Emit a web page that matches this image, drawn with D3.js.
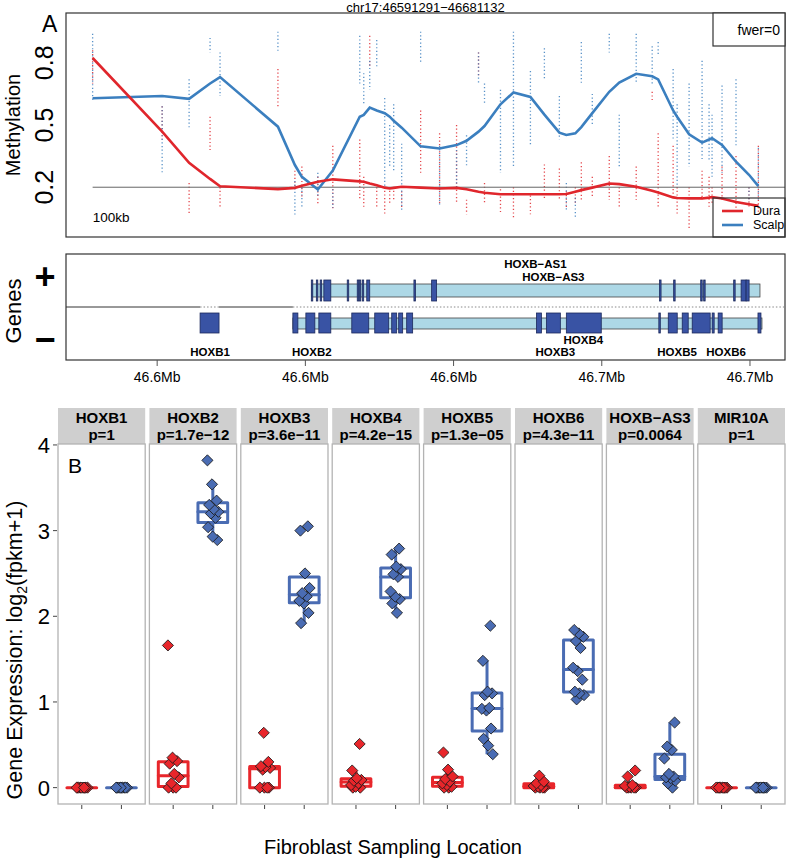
<!DOCTYPE html>
<html><head><meta charset="utf-8">
<script src="https://cdn.jsdelivr.net/npm/d3@7"></script>
<style>body{margin:0;background:#fff} svg{display:block;font-family:"Liberation Sans",Arial,sans-serif}</style>
</head><body><svg id="c" width="787" height="859"></svg>
<script>
// ---------------- DATA ----------------
const regionChr = "chr17";
const regionStart = 46591291;
const regionEnd = 46681132;
const fwerLabel = "fwer=0";
const scaleLabel = "100kb";
const groups = ["Dura", "Scalp"];
const methTicks = [0.2, 0.5, 0.8];
const methCutoff = 0.2;

// CpG positions (bp) with smoothed methylation and observed sample ranges
const cpgPos = [46591291,46600673,46604310,46607138,46608485,46616296,46618586,46619529,46621683,46623704,
  46627340,46627879,46628687,46629630,46630707,46631380,46631919,46632997,46635556,46638114,
  46640404,46641751,46643367,46644175,46646330,46648081,46650370,46652256,46654276,46655219,
  46656431,46657239,46658720,46661010,46662357,46664646,46666801,46667609,46669630,46670168,
  46671784,46673535,46674478,46674882,46676229,46678114,46679865,46681132];
const scalpSmooth = [0.629,0.64,0.626,0.70,0.731,0.492,0.307,0.25,0.189,0.28,
  0.54,0.549,0.584,0.57,0.557,0.54,0.52,0.487,0.397,0.387,
  0.403,0.424,0.468,0.495,0.60,0.657,0.635,0.55,0.463,0.452,
  0.46,0.49,0.557,0.66,0.705,0.747,0.735,0.72,0.57,0.54,
  0.455,0.415,0.43,0.436,0.404,0.323,0.26,0.205];
const duraSmooth = [0.823,0.468,0.318,0.24,0.205,0.191,0.197,0.207,0.226,0.238,
  0.228,0.226,0.218,0.21,0.198,0.194,0.197,0.202,0.198,0.194,
  0.197,0.19,0.178,0.173,0.166,0.166,0.166,0.166,0.166,0.167,
  0.178,0.186,0.198,0.218,0.215,0.202,0.183,0.175,0.151,0.148,
  0.146,0.146,0.15,0.153,0.146,0.129,0.118,0.11];
const scalpLo = [0.62,0.27,0.48,0.85,0.64,0.85,0.06,0.10,0.15,0.10, 0.70,0.60,0.67,0.78,0.20,0.30,0.27,0.09,0.80,0.11,
  0.20,0.30,0.70,0.60,0.27,0.30,0.40,0.72,0.43,0.09, 0.05,0.70,0.50,0.85,0.30,0.70,0.70,0.84,0.43,0.20,
  0.30,0.33,0.33,0.25,0.27,0.40,0.13,0.14];
const scalpHi = [0.94,0.59,0.72,0.92,0.85,0.95,0.23,0.20,0.27,0.19, 0.93,0.75,0.81,0.91,0.63,0.50,0.60,0.41,0.95,0.40,
  0.38,0.45,0.85,0.70,0.67,0.95,0.76,0.87,0.64,0.22, 0.15,0.90,0.65,0.94,0.55,0.94,0.88,0.90,0.77,0.60,
  0.70,0.81,0.60,0.55,0.69,0.72,0.20,0.39];
const duraLo = [0.70,0.43,0.07,0.38,0.10,0.59,0.20,0.15,0.12,0.09, 0.14,0.10,0.78,0.10,0.07,0.12,0.14,0.10,0.27,0.12,
  0.13,0.07,0.73,0.12,0.07,0.05,0.07,0.14,0.14,0.10, 0.12,0.14,0.15,0.14,0.10,0.14,0.62,0.10,0.14,0.07,
  0.00,0.14,0.10,0.12,0.14,0.10,0.10,0.07];
const duraHi = [0.86,0.59,0.22,0.54,0.20,0.77,0.28,0.30,0.25,0.40, 0.43,0.25,0.93,0.20,0.20,0.20,0.20,0.18,0.57,0.46,
  0.50,0.14,0.85,0.22,0.19,0.20,0.16,0.31,0.29,0.18, 0.20,0.32,0.25,0.35,0.20,0.30,0.66,0.46,0.40,0.20,
  0.20,0.28,0.25,0.20,0.30,0.35,0.20,0.40];

// Gene track (offsets in bp from geneBase)
const geneBase = 46600000;
const genomeTicks = [46600000, 46620000, 46640000, 46660000, 46680000];
const hoxb1Exon = [5791, 8350];
const minusBand = [18316, 81616];
const plusBand = [20875, 81347];
const minusExons = [[18316,18990],[20067,21279],[21818,23434],[26263,28552],[29360,31245],[31650,32323],
  [32592,33131],[33670,34478],[51178,51852],[52525,54410],[55218,59932],[67700,67900],[68972,70184],
  [70857,71665],[72204,74628],[74897,75166],[75705,76244],[81078,81482]];
const plusExons = [[20800,21000],[21480,21680],[22000,22200],[22492,23434],[25650,25850],[27000,27200],
  [27270,27470],[27670,27870],[28283,28687],[34650,34850],[37037,37710],[67800,68000],[69700,69900],
  [73350,73550],[73750,73950],[77800,78000],[78803,79477],[79477,79881]];
const geneNames = ["HOXB1","HOXB2","HOXB3","HOXB4","HOXB5","HOXB6","HOXB\u2212AS1","HOXB\u2212AS3"];
const geneLabelPos = [7138, 20875, 53737, 57508, 70168, 76768, 51044, 53468];
const geneLabelLane = [3, 3, 3, 2, 3, 3, 0, 1];

// Expression
const exprGenes = ["HOXB1","HOXB2","HOXB3","HOXB4","HOXB5","HOXB6","HOXB\u2212AS3","MIR10A"];
const exprP = ["p=1","p=1.7e\u221212","p=3.6e\u221211","p=4.2e\u221215","p=1.3e\u221205","p=4.3e\u221211","p=0.0064","p=1"];
const duraExpr = [
  [0,0,0,0,0,0,0,0,0,0],
  [0,0,0,0.05,0.12,0.16,0.28,0.31,0.35,1.66],
  [0,0,0,0,0.21,0.23,0.24,0.25,0.30,0.64],
  [0,0,0.01,0.03,0.05,0.08,0.09,0.11,0.20,0.51],
  [0,0,0.01,0.03,0.05,0.07,0.10,0.13,0.21,0.41],
  [0,0,0,0,0.01,0.02,0.03,0.05,0.07,0.14],
  [0,0,0,0,0,0.01,0.02,0.03,0.13,0.20],
  [0,0,0,0,0,0,0,0,0,0]];
const scalpExpr = [
  [0,0,0,0,0,0,0,0,0,0],
  [2.89,2.93,3.04,3.15,3.20,3.22,3.25,3.30,3.35,3.54,3.82],
  [1.92,2.04,2.15,2.18,2.23,2.27,2.33,2.50,3.00,3.05],
  [2.04,2.15,2.20,2.23,2.29,2.46,2.49,2.55,2.58,2.72,2.79],
  [0.39,0.49,0.57,0.69,0.90,0.92,0.93,1.08,1.10,1.12,1.48,1.89],
  [1.03,1.08,1.10,1.12,1.26,1.36,1.40,1.63,1.71,1.76,1.80,1.84],
  [0,0.05,0.08,0.11,0.12,0.13,0.16,0.34,0.44,0.48,0.76],
  [0,0,0,0,0,0,0,0,0,0]];
const exprTicks = [0, 1, 2, 3, 4];

// ---------------- DRAW ----------------
const svg = d3.select("#c");
const methCol = {Dura: "#e0262c", Scalp: "#3b7fbf"};
const exprCol = {Dura: "#e8262b", Scalp: "#4a6cb3"};

// ----- Panel A -----
const A = {l: 66, r: 785, t: 13, b: 237};
const span = regionEnd - regionStart;
const xG = d3.scaleLinear().domain([regionStart - 0.04 * span, regionEnd + 0.04 * span]).range([A.l, A.r]);
const yM = d3.scaleLinear().domain([-0.04, 1.04]).range([A.b, A.t]);

svg.append("text").attr("x", (A.l + A.r) / 2).attr("y", 11.5).attr("text-anchor", "middle")
  .attr("font-size", 13).text(`${regionChr}:${regionStart}\u2212${regionEnd}`);
svg.append("text").attr("x", 42).attr("y", 32).attr("font-size", 23).text("A");

const idx = d3.range(cpgPos.length);
const gDots = svg.append("g");
[["Dura", duraLo, duraHi], ["Scalp", scalpLo, scalpHi]].forEach(([g, lo, hi]) => {
  gDots.selectAll(null).data(idx).join("line")
    .attr("x1", i => xG(cpgPos[i])).attr("x2", i => xG(cpgPos[i]))
    .attr("y1", i => yM(hi[i])).attr("y2", i => yM(lo[i]))
    .attr("stroke", methCol[g]).attr("stroke-width", 1.3)
    .attr("stroke-dasharray", "1.2,2.4").attr("opacity", 0.85);
});

svg.append("line").attr("x1", xG(cpgPos[0])).attr("x2", A.r)
  .attr("y1", yM(methCutoff)).attr("y2", yM(methCutoff)).attr("stroke", "#666").attr("stroke-width", 1);

const lineGen = d3.line().x(i => xG(cpgPos[i]));
svg.append("path").attr("d", lineGen.y(i => yM(scalpSmooth[i]))(idx))
  .attr("fill", "none").attr("stroke", methCol.Scalp).attr("stroke-width", 2.6);
svg.append("path").attr("d", lineGen.y(i => yM(duraSmooth[i]))(idx))
  .attr("fill", "none").attr("stroke", methCol.Dura).attr("stroke-width", 2.6);

svg.append("rect").attr("x", A.l).attr("y", A.t).attr("width", A.r - A.l).attr("height", A.b - A.t)
  .attr("fill", "none").attr("stroke", "#333").attr("stroke-width", 1.2);

methTicks.forEach(v => {
  svg.append("text").attr("transform", `translate(53,${yM(v)}) rotate(-90)`)
    .attr("text-anchor", "middle").attr("font-size", 25).text(d3.format(".1f")(v));
});
svg.append("text").attr("transform", `translate(20,${(A.t + A.b) / 2}) rotate(-90)`)
  .attr("text-anchor", "middle").attr("font-size", 20).text("Methylation");
svg.append("text").attr("x", xG(cpgPos[0])).attr("y", 222).attr("font-size", 13.5).text(scaleLabel);

// fwer box
svg.append("rect").attr("x", 713).attr("y", A.t).attr("width", A.r - 713).attr("height", 33)
  .attr("fill", "#fff").attr("stroke", "#333").attr("stroke-width", 1.2);
svg.append("text").attr("x", 780).attr("y", 35).attr("text-anchor", "end").attr("font-size", 14).text(fwerLabel);
// legend box
svg.append("rect").attr("x", 713).attr("y", 198).attr("width", A.r - 713).attr("height", A.b - 198)
  .attr("fill", "none").attr("stroke", "#333").attr("stroke-width", 1.2);
groups.forEach((g, k) => {
  const y = 211 + k * 14;
  svg.append("line").attr("x1", 722).attr("x2", 743).attr("y1", y).attr("y2", y)
    .attr("stroke", methCol[g]).attr("stroke-width", 2.6);
  svg.append("text").attr("x", 753).attr("y", y + 4).attr("font-size", 12.5).text(g);
});

// ----- Gene track -----
const G = {t: 254, b: 360, mid: 307};
const gx = o => xG(geneBase + o);
svg.append("rect").attr("x", A.l).attr("y", G.t).attr("width", A.r - A.l).attr("height", G.b - G.t)
  .attr("fill", "none").attr("stroke", "#333").attr("stroke-width", 1.2);
// strand divider: solid where no gene, dotted over genes
[[A.l, gx(hoxb1Exon[0])], [gx(hoxb1Exon[1]), gx(minusBand[0])]].forEach(([a, b]) =>
  svg.append("line").attr("x1", a).attr("x2", b).attr("y1", G.mid).attr("y2", G.mid).attr("stroke", "#333").attr("stroke-width", 1));
[[gx(hoxb1Exon[0]), gx(hoxb1Exon[1])], [gx(minusBand[0]), A.r]].forEach(([a, b]) =>
  svg.append("line").attr("x1", a).attr("x2", b).attr("y1", G.mid).attr("y2", G.mid).attr("stroke", "#888")
    .attr("stroke-width", 1).attr("stroke-dasharray", "1.5,2"));

const bandFill = "#add8e6", exonFill = "#3953a4", exonStroke = "#1c2a5c";
// plus strand
svg.append("rect").attr("x", gx(plusBand[0])).attr("width", gx(plusBand[1]) - gx(plusBand[0]))
  .attr("y", 284).attr("height", 13).attr("fill", bandFill).attr("stroke", "#444").attr("stroke-width", 0.8);
svg.selectAll(null).data(plusExons).join("rect")
  .attr("x", d => gx(d[0])).attr("width", d => gx(d[1]) - gx(d[0])).attr("y", 280).attr("height", 21)
  .attr("fill", exonFill).attr("stroke", exonStroke).attr("stroke-width", 0.8);
// minus strand
svg.append("rect").attr("x", gx(minusBand[0])).attr("width", gx(minusBand[1]) - gx(minusBand[0]))
  .attr("y", 318).attr("height", 11).attr("fill", bandFill).attr("stroke", "#444").attr("stroke-width", 0.8);
svg.selectAll(null).data(minusExons.concat([hoxb1Exon])).join("rect")
  .attr("x", d => gx(d[0])).attr("width", d => gx(d[1]) - gx(d[0])).attr("y", 313).attr("height", 20)
  .attr("fill", exonFill).attr("stroke", exonStroke).attr("stroke-width", 0.8);

const laneY = [268, 281, 344, 356];
geneNames.forEach((n, i) => {
  svg.append("text").attr("x", gx(geneLabelPos[i])).attr("y", laneY[geneLabelLane[i]])
    .attr("text-anchor", "middle").attr("font-size", 11.5).attr("font-weight", "bold").text(n);
});
svg.append("text").attr("x", 45).attr("y", 289).attr("text-anchor", "middle").attr("font-size", 36).attr("font-weight", "bold").text("+");
svg.append("text").attr("x", 45).attr("y", 352).attr("text-anchor", "middle").attr("font-size", 36).attr("font-weight", "bold").text("\u2212");
svg.append("text").attr("transform", `translate(21,${(G.t + G.b) / 2 + 4}) rotate(-90)`)
  .attr("text-anchor", "middle").attr("font-size", 22).text("Genes");
genomeTicks.forEach(t => {
  svg.append("line").attr("x1", xG(t)).attr("x2", xG(t)).attr("y1", G.b).attr("y2", G.b + 6).attr("stroke", "#555");
  svg.append("text").attr("x", xG(t)).attr("y", 382).attr("text-anchor", "middle").attr("font-size", 14)
    .text(d3.format(".1f")(t / 1e6) + "Mb");
});

// ----- Panel B -----
const B = {l: 58, r: 785, t: 444, b: 804, stripT: 408};
const xPanel = d3.scaleBand().domain(exprGenes).range([B.l, B.r]).paddingInner(0.046);
const xGrp = d3.scalePoint().domain(groups).range([0, xPanel.bandwidth()]).padding(0.6);
const allVals = duraExpr.flat().concat(scalpExpr.flat());
const ext = d3.extent(allVals), pad = (ext[1] - ext[0]) * 0.05;
const yE = d3.scaleLinear().domain([ext[0] - pad, ext[1] + pad]).range([B.b, B.t]);
const diamond = d3.symbol(d3.symbolSquare, 62)();
const jit = (i, k) => (((i * 0.618034 + k * 0.37 + 0.13) % 1) - 0.5) * 12;

exprGenes.forEach((gname, gi) => {
  const px = xPanel(gname), bw = xPanel.bandwidth();
  const g = svg.append("g");
  g.append("rect").attr("x", px).attr("y", B.stripT).attr("width", bw).attr("height", B.t - B.stripT).attr("fill", "#cfcfcf");
  g.append("text").attr("x", px + bw / 2).attr("y", 423).attr("text-anchor", "middle").attr("font-size", 15).attr("font-weight", "bold").text(gname);
  g.append("text").attr("x", px + bw / 2).attr("y", 440).attr("text-anchor", "middle").attr("font-size", 15).attr("font-weight", "bold").text(exprP[gi]);
  g.append("rect").attr("x", px).attr("y", B.t).attr("width", bw).attr("height", B.b - B.t)
    .attr("fill", "#fff").attr("stroke", "#b3b3b3").attr("stroke-width", 1.3);
  groups.forEach(grp => {
    const cx = px + xGrp(grp);
    g.append("line").attr("x1", cx).attr("x2", cx).attr("y1", B.b + 1).attr("y2", B.b + 5).attr("stroke", "#444");
  });
  const sets = [duraExpr[gi], scalpExpr[gi]];
  sets.forEach((vals, k) => {
    const grp = groups[k], col = exprCol[grp];
    const s = vals.slice().sort(d3.ascending);
    const q1 = d3.quantile(s, 0.25), med = d3.quantile(s, 0.5), q3 = d3.quantile(s, 0.75), iqr = q3 - q1;
    const lo = d3.min(s.filter(v => v >= q1 - 1.5 * iqr)), hi = d3.max(s.filter(v => v <= q3 + 1.5 * iqr));
    const cx = px + xGrp(grp), bwid = xGrp.step() * 0.75;
    g.append("line").attr("x1", cx).attr("x2", cx).attr("y1", yE(hi)).attr("y2", yE(q3)).attr("stroke", col).attr("stroke-width", 3);
    g.append("line").attr("x1", cx).attr("x2", cx).attr("y1", yE(q1)).attr("y2", yE(lo)).attr("stroke", col).attr("stroke-width", 3);
    g.append("rect").attr("x", cx - bwid / 2).attr("width", bwid).attr("y", yE(q3)).attr("height", yE(q1) - yE(q3))
      .attr("fill", "#fff").attr("stroke", col).attr("stroke-width", 3).attr("stroke-linejoin", "round");
    g.append("line").attr("x1", cx - bwid / 2).attr("x2", cx + bwid / 2).attr("y1", yE(med)).attr("y2", yE(med))
      .attr("stroke", col).attr("stroke-width", 3).attr("stroke-linecap", "round");
  });
  sets.forEach((vals, k) => {
    const grp = groups[k];
    const cx = px + xGrp(grp);
    g.selectAll(null).data(vals).join("path").attr("d", diamond)
      .attr("transform", (v, i) => `translate(${cx + jit(i, gi + k)},${yE(v)}) rotate(45)`)
      .attr("fill", exprCol[grp]).attr("stroke", "#1a1a1a").attr("stroke-width", 0.8);
  });
});

// y axis B
exprTicks.forEach(t => {
  svg.append("line").attr("x1", 53).attr("x2", 57).attr("y1", yE(t)).attr("y2", yE(t)).attr("stroke", "#444");
  svg.append("text").attr("x", 50).attr("y", yE(t)).attr("dy", "0.36em").attr("text-anchor", "end").attr("font-size", 22).text(t);
});
const yTitle = svg.append("text").attr("transform", `translate(22,650) rotate(-90)`).attr("text-anchor", "middle").attr("font-size", 21.5);
yTitle.append("tspan").text("Gene Expression: log");
yTitle.append("tspan").attr("font-size", 14).attr("dy", 5).text("2");
yTitle.append("tspan").attr("dy", -5).text("(fpkm+1)");
svg.append("text").attr("x", 393).attr("y", 854).attr("text-anchor", "middle").attr("font-size", 20).text("Fibroblast Sampling Location");
svg.append("text").attr("x", 68).attr("y", 473).attr("font-size", 21).text("B");
</script></body></html>
